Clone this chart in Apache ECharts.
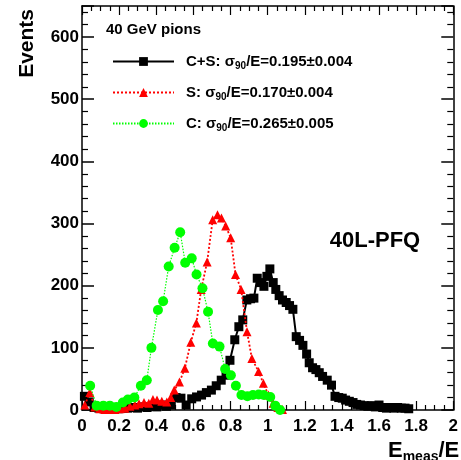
<!DOCTYPE html>
<html>
<head>
<meta charset="utf-8">
<script src="https://cdn.jsdelivr.net/npm/echarts@6/dist/echarts.min.js"></script>
<style>
html,body{margin:0;padding:0;background:#fff;}
#c{width:461px;height:460px;}
</style>
</head>
<body>
<div id="c"></div>
<script>
// ---- data ----
const seriesNames = ['C+S', 'S', 'C'];
const resolutions = ['0.195\u00b10.004', '0.170\u00b10.004', '0.265\u00b10.005'];

const csX = [0.013,0.039,0.065,0.091,0.117,0.143,0.169,0.195,0.221,0.247,0.273,0.299,0.325,0.351,0.377,0.403,0.429,0.455,0.481,0.507,0.533,0.561,0.591,0.617,0.644,0.670,0.697,0.723,0.750,0.776,0.797,0.823,0.845,0.866,0.888,0.908,0.926,0.944,0.962,0.980,0.996,1.012,1.030,1.044,1.062,1.080,1.100,1.118,1.136,1.154,1.172,1.190,1.210,1.224,1.242,1.260,1.278,1.296,1.321,1.344,1.363,1.383,1.402,1.420,1.440,1.460,1.480,1.500,1.520,1.540,1.560,1.580,1.600,1.620,1.640,1.660,1.680,1.700,1.720,1.740,1.760];
const csY = [22,13,4,3,2,2,2,2,3,3,4,3,5,4,6,5,8,6,8,20,19,8,18,21,24,28,32,39,48,56,80,113,134,145,177,179,180,212,205,199,215,227,205,194,184,177,173,168,162,118,112,104,90,76,68,65,60,54,48,40,22,20,19,16,14,12,9,8,7,6,7,5,8,4,3,4,3,4,3,3,2];

const sX = [0.015,0.042,0.069,0.096,0.123,0.150,0.177,0.204,0.231,0.258,0.285,0.307,0.334,0.360,0.382,0.404,0.430,0.457,0.478,0.497,0.525,0.554,0.586,0.616,0.642,0.674,0.704,0.730,0.751,0.774,0.801,0.827,0.857,0.889,0.915,0.951,0.977,1.004,1.030,1.055,1.080];
const sY = [8,28,5,2,1,1,1,2,3,6,8,10,12,11,17,16,14,13,20,32,45,67,109,140,194,238,306,314,309,296,277,218,194,126,83,62,43,24,11,4,1];

const cX = [0.044,0.079,0.115,0.150,0.185,0.220,0.247,0.282,0.317,0.349,0.374,0.409,0.437,0.467,0.499,0.529,0.556,0.591,0.617,0.649,0.679,0.705,0.741,0.771,0.802,0.829,0.859,0.891,0.921,0.952,0.979,1.014,1.041,1.067];
const cY = [39,7,7,7,5,12,17,20,39,48,100,161,175,231,261,286,237,244,218,196,158,107,102,66,56,39,24,22,24,25,24,21,7,0];

const xTicks = {min:0, max:2, interval:0.2};
const yTicks = {min:0, max:650, interval:100};

// ---- build ----
function pairs(xs, ys){ return xs.map((x,i)=>[x, ys[i]]); }
const FONT = 'Liberation Sans, Arial, Helvetica, sans-serif';

const chart = echarts.init(document.getElementById('c'), null, {renderer:'canvas'});

const axisCommon = {
  axisLine:{show:true, onZero:false, lineStyle:{color:'#000', width:1.5}},
  splitLine:{show:false},
};

chart.setOption({
  animation:false,
  backgroundColor:'#fff',
  grid:{left:82, right:1, top:6, bottom:50, containLabel:false},
  xAxis:[
    Object.assign({}, axisCommon, {
      type:'value', position:'bottom', min:xTicks.min, max:xTicks.max, interval:xTicks.interval,
      axisTick:{show:true, inside:true, length:9, lineStyle:{color:'#000', width:1.2}},
      minorTick:{show:true, splitNumber:4, length:5, lineStyle:{color:'#000', width:1.2}},
      axisLabel:{show:true, margin:8, color:'#000', fontSize:17, fontWeight:'bold', fontFamily:FONT,
        formatter:v=>String(Math.round(v*10)/10)}
    }),
    Object.assign({}, axisCommon, {
      type:'value', position:'top', min:xTicks.min, max:xTicks.max, interval:xTicks.interval,
      axisTick:{show:true, inside:true, length:9, lineStyle:{color:'#000', width:1.2}},
      minorTick:{show:true, splitNumber:4, length:5, lineStyle:{color:'#000', width:1.2}},
      axisLabel:{show:false}
    })
  ],
  yAxis:[
    Object.assign({}, axisCommon, {
      type:'value', position:'left', min:yTicks.min, max:yTicks.max, interval:yTicks.interval,
      axisTick:{show:true, inside:true, length:12, lineStyle:{color:'#000', width:1.5}},
      minorTick:{show:true, splitNumber:5, length:6, lineStyle:{color:'#000', width:1.2}},
      axisLabel:{show:true, margin:3, color:'#000', fontSize:17, fontWeight:'bold', fontFamily:FONT,
        formatter:v=>(v%100===0?String(v):'')}
    }),
    Object.assign({}, axisCommon, {
      type:'value', position:'right', min:yTicks.min, max:yTicks.max, interval:yTicks.interval,
      axisTick:{show:true, inside:true, length:12, lineStyle:{color:'#000', width:1.5}},
      minorTick:{show:true, splitNumber:5, length:6, lineStyle:{color:'#000', width:1.2}},
      axisLabel:{show:false}
    })
  ],
  legend:{
    show:true, orient:'vertical', left:112, top:54, itemGap:14, padding:0,
    itemWidth:61, itemHeight:11,
    data:seriesNames,
    formatter:function(name){
      const i = seriesNames.indexOf(name);
      return '{t|' + name + ': \u03c3}{s|90}{t|/E=' + resolutions[i] + '}';
    },
    textStyle:{
      padding:[0,0,0,7],
      rich:{
        t:{fontSize:15, fontWeight:'bold', fontFamily:FONT, color:'#000', lineHeight:20, verticalAlign:'middle'},
        s:{fontSize:10, fontWeight:'bold', fontFamily:FONT, color:'#000', verticalAlign:'middle', padding:[9,0,0,0]}
      }
    }
  },
  series:[
    {name:seriesNames[0], type:'line', xAxisIndex:0, yAxisIndex:0, data:pairs(csX, csY),
      symbol:'rect', symbolSize:9, showSymbol:true, z:2,
      lineStyle:{color:'#000', width:2, type:'solid'}, itemStyle:{color:'#000'}},
    {name:seriesNames[1], type:'line', xAxisIndex:0, yAxisIndex:0, data:pairs(sX, sY),
      symbol:'triangle', symbolSize:9, showSymbol:true, z:3,
      lineStyle:{color:'#ff0000', width:1.8, type:[2,2]}, itemStyle:{color:'#ff0000'}},
    {name:seriesNames[2], type:'line', xAxisIndex:0, yAxisIndex:0, data:pairs(cX, cY),
      symbol:'circle', symbolSize:10, showSymbol:true, z:4,
      lineStyle:{color:'#00ff00', width:1.2, type:[1.5,1.5]}, itemStyle:{color:'#00ff00'}}
  ],
  graphic:[
    {type:'text', left:106, top:22, style:{text:'40 GeV pions', font:'bold 15px '+FONT, fill:'#000'}},
    {type:'text', x:375, y:241, style:{text:'40L-PFQ', font:'bold 22px '+FONT, fill:'#000', textAlign:'center', textVerticalAlign:'middle'}},
    {type:'text', x:27, y:9, rotation:Math.PI/2, style:{text:'Events', font:'bold 21px '+FONT, fill:'#000', textAlign:'right', textVerticalAlign:'middle'}},
    {type:'text', x:388, y:438, style:{
      text:'{b|E}{s|meas}{b|/E}',
      rich:{
        b:{fontSize:22, fontWeight:'bold', fontFamily:FONT, fill:'#000', lineHeight:24, verticalAlign:'middle'},
        s:{fontSize:14, fontWeight:'bold', fontFamily:FONT, fill:'#000', verticalAlign:'middle', padding:[12,0,0,0]}
      }
    }}
  ]
});
</script>
</body>
</html>
